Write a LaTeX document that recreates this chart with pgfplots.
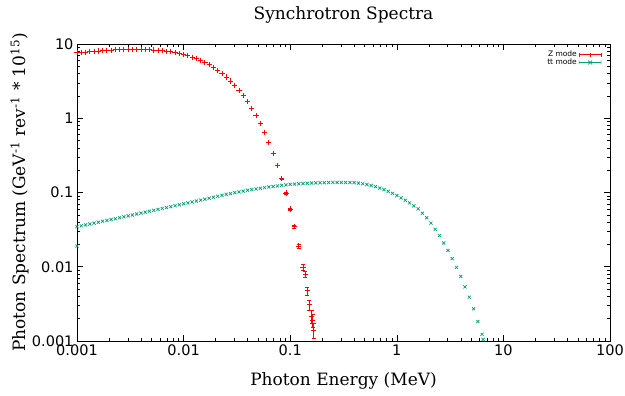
\documentclass[border=0pt]{standalone}
\usepackage{pgfplots}
\pgfplotsset{compat=1.18}
\usepackage{pgfplotstable}
\usepackage{fontspec}
\setmainfont{DejaVu Serif}
\newfontfamily\ticksf{DejaVu Sans}
\definecolor{zred}{rgb}{1,0,0}
\definecolor{ttgreen}{RGB}{0,158,115}

\pgfplotstableread{
x y
1e-3 7.59
1.0965e-3 7.68
1.2023e-3 7.78
1.3183e-3 7.87
1.4454e-3 7.97
1.5849e-3 8.05
1.7378e-3 8.13
1.9055e-3 8.21
2.0893e-3 8.27
2.2909e-3 8.34
2.5119e-3 8.39
2.7542e-3 8.43
3.0200e-3 8.46
3.3113e-3 8.47
3.6308e-3 8.48
3.9811e-3 8.46
4.3652e-3 8.43
4.7863e-3 8.38
5.2481e-3 8.32
5.7544e-3 8.23
6.3096e-3 8.12
6.9183e-3 7.99
7.5858e-3 7.83
8.3176e-3 7.64
9.1201e-3 7.43
1e-2 7.19
1.0965e-2 6.93
1.2023e-2 6.64
1.3183e-2 6.32
1.4454e-2 5.98
1.5849e-2 5.62
1.7378e-2 5.24
1.9055e-2 4.84
2.0893e-2 4.43
2.2909e-2 4.01
2.5119e-2 3.59
2.7542e-2 3.18
3.0200e-2 2.77
3.3113e-2 2.38
3.6308e-2 2.01
3.9811e-2 1.67
4.3652e-2 1.36
4.7863e-2 1.085
5.2481e-2 0.844
5.7544e-2 0.640
6.3096e-2 0.471
6.9183e-2 0.336
7.5858e-2 0.232
}\zmodeA

\pgfplotstableread{
x y ey
8.3176e-2 0.154 0.0034
9.1201e-2 0.0983 0.0027
0.1 0.0598 0.0021
0.10965 0.0347 0.0016
0.12023 0.0190 0.0012
0.13183 0.00985 0.00085
0.13804 0.0080 0.00077
0.14454 0.00477 0.00059
0.15136 0.0031 0.00048
0.15849 0.00215 0.0004
0.16218 0.0019 0.00037
0.16596 0.0014 0.00032
}\zmodeB

\pgfplotstableread{
x y
1e-3 0.019
1e-3 0.03467
1.0965e-3 0.03565
1.2023e-3 0.03664
1.3183e-3 0.03767
1.4454e-3 0.03873
1.5849e-3 0.03981
1.7378e-3 0.04093
1.9055e-3 0.04207
2.0893e-3 0.04325
2.2909e-3 0.04446
2.5119e-3 0.04571
2.7542e-3 0.04704
3.0200e-3 0.04842
3.3113e-3 0.04983
3.6308e-3 0.05129
3.9811e-3 0.05278
4.3652e-3 0.05433
4.7863e-3 0.05592
5.2481e-3 0.05754
5.7544e-3 0.05923
6.3096e-3 0.06095
6.9183e-3 0.06273
7.5858e-3 0.06457
8.3176e-3 0.06646
9.1201e-3 0.06839
1e-2 0.07039
1.0965e-2 0.07244
1.2023e-2 0.07456
1.3183e-2 0.07674
1.4454e-2 0.07898
1.5849e-2 0.08128
1.7378e-2 0.08375
1.9055e-2 0.0863
2.0893e-2 0.08892
2.2909e-2 0.09162
2.5119e-2 0.09441
2.7542e-2 0.09683
3.0200e-2 0.09931
3.3113e-2 0.1019
3.6308e-2 0.10447
3.9811e-2 0.10715
4.3652e-2 0.1094
4.7863e-2 0.11169
5.2481e-2 0.11402
5.7544e-2 0.11641
6.3096e-2 0.11885
6.9183e-2 0.12078
7.5858e-2 0.12274
8.3176e-2 0.12474
9.1201e-2 0.12677
0.1 0.12882
0.10965 0.1299
0.12023 0.13098
0.13183 0.13207
0.14454 0.13317
0.15849 0.13428
0.17378 0.13477
0.19055 0.13527
0.20893 0.13577
0.22909 0.13627
0.25119 0.13677
0.27542 0.13665
0.30200 0.13652
0.33113 0.1364
0.36308 0.13627
0.39811 0.13614
0.43652 0.13379
0.47863 0.13147
0.52481 0.12823
0.57544 0.12417
0.63096 0.12023
0.69183 0.11482
0.75858 0.10965
0.83176 0.10375
0.91201 0.09727
1 0.0912
1.0965 0.08472
1.2023 0.0787
1.3183 0.07244
1.4454 0.06607
1.5849 0.06026
1.7378 0.05248
1.9055 0.04571
2.0893 0.03873
2.2909 0.03192
2.5119 0.0263
2.7542 0.02089
3.0200 0.0166
3.3113 0.01288
3.6308 0.009772
3.9811 0.007413
4.3652 0.00537
4.7863 0.00389
5.2481 0.002716
5.7544 0.001828
6.3096 0.00123
6.45 0.00105
}\ttmode

\begin{document}
\begin{tikzpicture}
\useasboundingbox (-77bp,-55bp) rectangle (548bp,341bp);
\begin{axis}[
  at={(0,0)}, anchor=south west,
  scale only axis, width=533bp, height=297bp,
  xmode=log, ymode=log,
  xmin=0.001, xmax=100, ymin=0.001, ymax=10,
  xtick={0.001,0.01,0.1,1,10,100},
  xticklabels={0.001,0.01,0.1,1,10,100},
  ytick={0.001,0.01,0.1,1,10},
  yticklabels={0.001,0.01,0.1,1,10},
  tick label style={font=\ticksf\fontsize{14.5bp}{16bp}\selectfont},
  axis line style={line width=0.8pt},
  major tick length=6bp, minor tick length=3bp,
  every tick/.style={black, line width=0.6pt},
  every axis title shift=0pt,
  title={Synchrotron Spectra},
  title style={at={(axis description cs:0.5,1)}, anchor=center, yshift=29bp, font=\fontsize{17bp}{20bp}\selectfont},
  xlabel={Photon Energy (MeV)},
  xlabel style={at={(axis description cs:0.5,-0.135)}, anchor=center, font=\fontsize{17bp}{20bp}\selectfont},
  ylabel={Photon Spectrum (GeV\textsuperscript{-1} rev\textsuperscript{-1} * 10\textsuperscript{15})},
  ylabel style={at={(axis description cs:-0.107,0.5)}, anchor=center, font=\fontsize{17bp}{20bp}\selectfont},
  legend style={at={(axis description cs:0.99,0.99)}, anchor=north east, draw=none, fill=none,
    font=\ticksf\fontsize{7.5bp}{9bp}\selectfont, legend cell align=right, row sep=-3.5bp},
  legend plot pos=right,
]
\addlegendimage{legend image code/.code={\draw[draw=zred,line width=0.7pt] (0bp,0bp)--(22bp,0bp) (0bp,-2bp)--(0bp,2bp) (11bp,-2bp)--(11bp,2bp) (22bp,-2bp)--(22bp,2bp);}}
\addlegendentry{Z mode}
\addlegendimage{legend image code/.code={\draw[draw=ttgreen,line width=0.7pt] (0bp,0bp)--(22bp,0bp) (0bp,-2bp)--(0bp,2bp) (22bp,-2bp)--(22bp,2bp) (9bp,-2bp)--(13bp,2bp) (9bp,2bp)--(13bp,-2bp);}}
\addlegendentry{tt mode}

\addplot[forget plot, only marks, mark=x, mark size=2.2bp, color=ttgreen, mark options={draw=ttgreen, line width=0.7pt}] table[x=x,y=y] {\ttmode};
\addplot[forget plot, only marks, mark=+, mark size=2.6bp, color=zred, mark options={draw=zred, line width=0.85pt}] table[x=x,y=y] {\zmodeA};
\addplot[forget plot, only marks, mark=+, mark size=2.6bp, color=zred, mark options={draw=zred, line width=0.85pt},
  error bars/.cd, y dir=both, y explicit, error bar style={draw=zred, line width=0.7pt}, error mark options={draw=zred, rotate=90, mark size=2bp, line width=0.7pt}] table[x=x,y=y,y error=ey] {\zmodeB};
\end{axis}
\end{tikzpicture}
\end{document}
